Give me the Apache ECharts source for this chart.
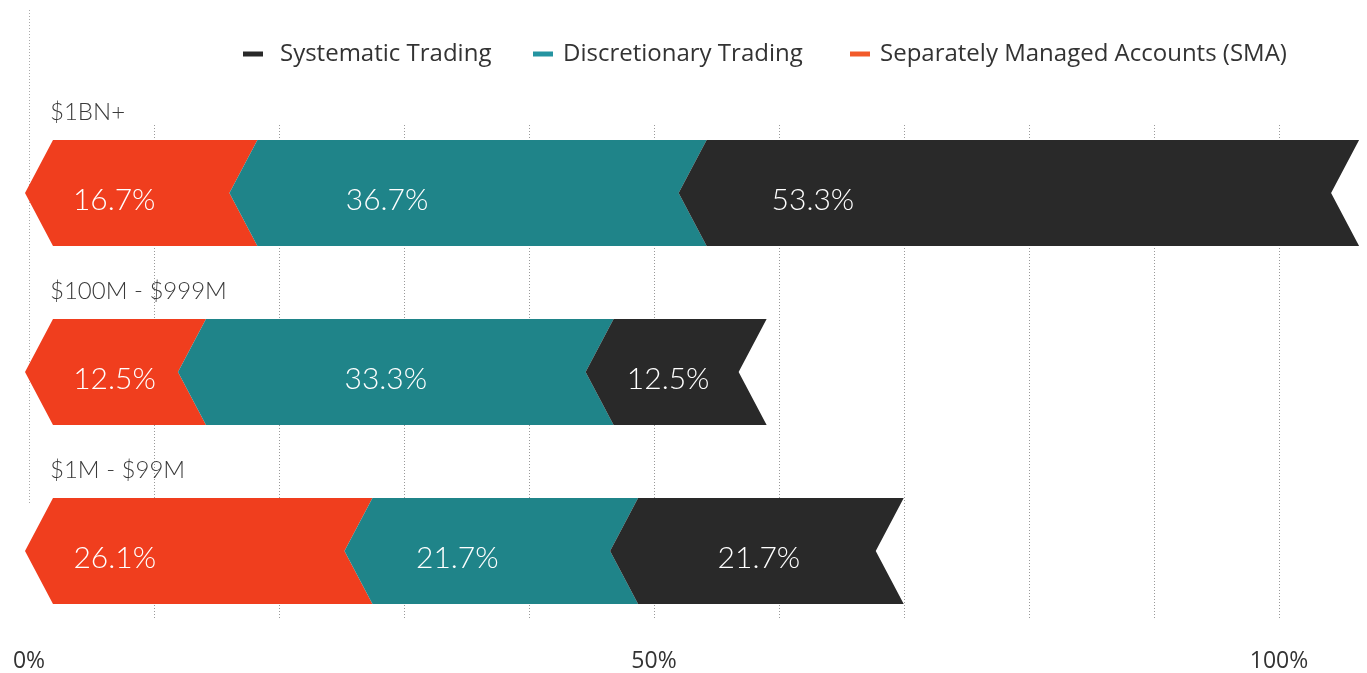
<!DOCTYPE html>
<html>
<head>
<meta charset="utf-8">
<script src="https://cdn.jsdelivr.net/npm/echarts@6/dist/echarts.min.js"></script>
<style>
  html, body { margin: 0; padding: 0; background: #fff; }
  #chart { width: 1367px; height: 673px; }
</style>
</head>
<body>
<div id="chart"></div>
<script>
// data
const categories = ['$1BN+', '$100M - $999M', '$1M - $99M']
const smaValues = [16.7, 12.5, 26.1]
const discretionaryValues = [36.7, 33.3, 21.7]
const systematicValues = [53.3, 12.5, 21.7]
const axisLabelTicks = [0, 50, 100]

const SMA = 'Separately Managed Accounts (SMA)'
const DISC = 'Discretionary Trading'
const SYS = 'Systematic Trading'

// look
const BAR_H = 106 // bar thickness in px
const NOTCH = 28 // chevron depth in px
const LABEL_FONT = 'Lato, "Open Sans", sans-serif'
// labels in the original are not centred in their segments, small px nudges
const labelNudge = {
  [SMA]: [-27, -1, -84],
  [DISC]: [-81, -10, -34],
  [SYS]: [-206, -8, 2],
}

const chart = echarts.init(document.getElementById('chart'))

// running start of every segment (stacking)
const stacks = [smaValues, discretionaryValues, systematicValues]
const starts = stacks.map((vals, s) =>
  vals.map((v, i) => stacks.slice(0, s).reduce((sum, arr) => sum + arr[i], 0))
)

function chevronSeries(name, values, startVals, color) {
  return {
    type: 'custom',
    name: name,
    xAxisIndex: 1,
    yAxisIndex: 1,
    clip: false,
    data: values.map((v, i) => [startVals[i], startVals[i] + v, i, v]),
    encode: { x: [0, 1], y: 2 },
    renderItem(params, api) {
      const a = api.coord([api.value(0), api.value(2)])
      const b = api.coord([api.value(1), api.value(2)])
      const y = a[1]
      const h = BAR_H / 2
      const pts = [
        [a[0] + NOTCH, y - h],
        [b[0] + NOTCH, y - h],
        [b[0], y],
        [b[0] + NOTCH, y + h],
        [a[0] + NOTCH, y + h],
        [a[0], y],
      ]
      const cx = (a[0] + b[0]) / 2 + NOTCH / 2 + labelNudge[name][params.dataIndex]
      return {
        type: 'group',
        children: [
          {
            type: 'polygon',
            shape: { points: pts },
            style: { fill: color },
          },
          {
            type: 'text',
            x: cx,
            y: y + 7,
            style: {
              text: api.value(3).toFixed(1) + '%',
              fill: '#fff',
              font: '300 30px ' + LABEL_FONT,
              align: 'center',
              verticalAlign: 'middle',
            },
          },
        ],
      }
    },
  }
}

function legendAt(left, name, color, gap) {
  return {
    left: left,
    top: 42,
    padding: 0,
    icon: 'rect',
    itemWidth: 20,
    itemHeight: 5,
    selectedMode: false,
    data: [{ name: name, itemStyle: { color: color } }],
    textStyle: {
      fontFamily: '"Open Sans", sans-serif',
      fontSize: 24,
      color: '#333',
      padding: [0, 0, 0, gap],
    },
  }
}

const option = {
  animation: false,
  backgroundColor: '#fff',
  legend: [
    legendAt(243, SYS, '#292929', 12),
    legendAt(533, DISC, '#2594a1', 5),
    legendAt(850, SMA, '#f25a2a', 5),
  ],
  grid: [
    // visible percentage scale
    { left: 29, right: 0, top: 125, bottom: 53 },
    // chevron bars
    { left: 25, right: 20, top: 103.5, bottom: 32.5 },
  ],
  xAxis: [
    {
      gridIndex: 0,
      type: 'value',
      min: 0,
      max: 106.8,
      interval: 10,
      axisLine: { show: false },
      axisTick: { show: false },
      axisLabel: {
        margin: 30,
        fontFamily: '"Open Sans", sans-serif',
        fontSize: 23,
        color: '#333',
        formatter: (v) => (axisLabelTicks.includes(v) ? v + '%' : ''),
      },
      splitLine: {
        show: true,
        showMinLine: false,
        showMaxLine: false,
        lineStyle: { color: '#999', type: [1, 2], width: 1 },
      },
    },
    {
      gridIndex: 1,
      type: 'value',
      min: 0,
      max: 108,
      show: false,
    },
  ],
  yAxis: [
    { gridIndex: 0, type: 'value', show: false },
    { gridIndex: 1, type: 'category', data: categories, inverse: true, show: false },
  ],
  graphic: [
    {
      type: 'line',
      shape: { x1: 29.5, y1: 10, x2: 29.5, y2: 505 },
      style: { stroke: '#aaa', lineWidth: 1, lineDash: [1, 2] },
      silent: true,
    },
  ],
  series: [
    chevronSeries(SMA, smaValues, starts[0], '#f03e1e'),
    chevronSeries(DISC, discretionaryValues, starts[1], '#1f8489'),
    chevronSeries(SYS, systematicValues, starts[2], '#292929'),
    {
      type: 'custom',
      name: 'categories',
      xAxisIndex: 1,
      yAxisIndex: 1,
      data: categories.map((c, i) => [0, i]),
      renderItem(params, api) {
        const p = api.coord([0, api.value(1)])
        return {
          type: 'text',
          x: p[0] + 25,
          y: p[1] - 81,
          style: {
            text: categories[params.dataIndex],
            fill: '#3a3a3a',
            font: '300 24px ' + LABEL_FONT,
            align: 'left',
            verticalAlign: 'middle',
          },
        }
      },
    },
  ],
}

chart.setOption(option)
</script>
</body>
</html>
